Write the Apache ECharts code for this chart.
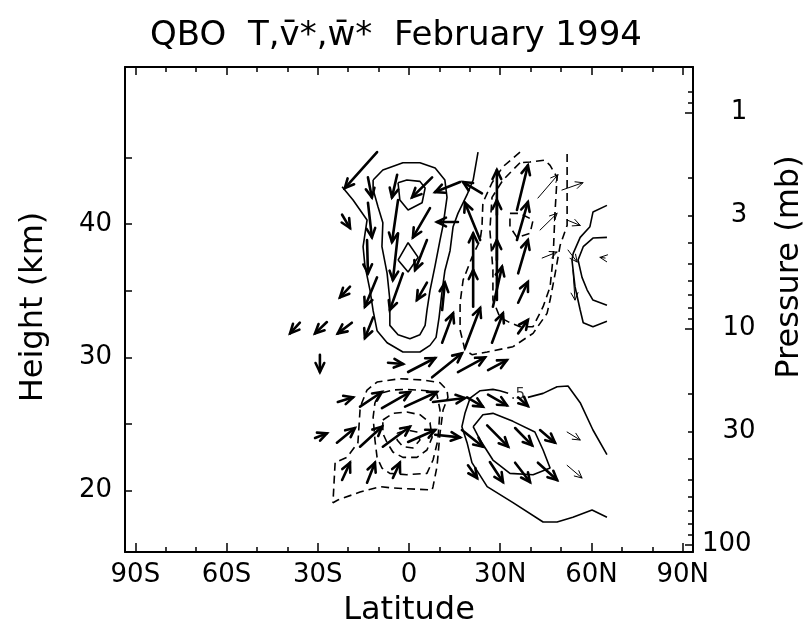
<!DOCTYPE html>
<html>
<head>
<meta charset="utf-8">
<script src="https://cdn.jsdelivr.net/npm/echarts@6/dist/echarts.min.js"></script>
<style>
html,body{margin:0;padding:0;background:#fff;}
#chart{width:812px;height:633px;}
</style>
</head>
<body>
<div id="chart"></div>
<script>
// ---------- axis ticks / labels ----------
const latMajorTicks = [-90, -60, -30, 0, 30, 60, 90];
const latMinorTicks = [-90, -80, -70, -60, -50, -40, -30, -20, -10, 0, 10, 20, 30, 40, 50, 60, 70, 80, 90];
const heightTicks = [20, 25, 30, 35, 40, 45];
const heightLabels = [20, 30, 40];
const pressureLabels = [1, 3, 10, 30];
const pressureBottomLabel = [100];
const pressureMajorTicks = [1, 10, 100];
const pressureMinorTicks = [0.8, 0.9, 2, 3, 4, 5, 6, 7, 8, 9, 20, 30, 40, 50, 60, 70, 80, 90];

// ---------- temperature contours [lat, km] ----------
const warmOuter = [[-22.0,42.8],[-18.4,41.8],[-13.8,40.3],[-15.1,38.3],[-14.5,36.9],[-12.8,35.0],[-11.8,33.5],[-10.5,32.0],[-7.2,31.1],[-2.0,30.4],[3.6,30.4],[6.9,30.9],[8.9,31.5],[9.9,33.0],[10.9,35.0],[11.8,36.5],[13.5,38.0],[14.5,39.8],[16.1,40.8],[19.1,42.2],[21.1,43.3],[22.7,45.4]];
const warmInner = [[-11.8,43.3],[-8.6,44.05],[-2.0,44.6],[3.6,44.6],[8.6,44.2],[11.8,43.3],[12.5,42.0],[11.2,39.9],[10.2,38.8],[8.6,36.9],[6.9,35.0],[5.9,33.5],[5.3,32.4],[3.6,31.7],[0.3,31.4],[-3.6,31.7],[-6.3,32.4],[-6.3,34.3],[-7.2,36.3],[-8.9,38.3],[-8.6,40.1],[-10.2,41.3],[-11.8,42.6],[-11.8,43.3]];
const warmCoreTop = [[-3.6,43.1],[-0.7,43.3],[3.6,43.2],[5.3,42.7],[4.3,41.6],[-0.3,41.05],[-3.0,41.8],[-3.6,43.1]];
const warmCoreLow = [[-3.6,37.3],[-0.3,38.6],[3.0,37.5],[-0.3,36.4],[-3.6,37.3]];
const coldOuter = [[36.5,45.4],[30.9,44.3],[27.3,43.1],[24.3,41.6],[24.0,39.8],[23.4,38.8],[20.7,37.5],[17.8,35.8],[16.8,34.1],[16.8,32.05],[18.4,30.55],[20.7,30.2],[25.7,30.4],[34.2,30.8],[40.8,31.8],[45.4,33.3],[46.4,34.3],[48.0,36.2],[49.7,38.4],[52.0,39.9],[52.0,45.4]];
const coldMiddle = [[36.5,44.6],[30.9,43.3],[27.3,42.0],[26.6,39.55],[27.6,36.55],[27.6,34.3],[29.9,33.0],[33.2,32.6],[36.5,32.3],[40.8,32.3],[44.1,33.8],[46.4,35.3],[47.4,37.5],[48.0,40.8],[48.7,43.5],[46.4,44.4],[44.7,44.8],[39.8,44.65],[36.5,44.6]];
const coldInner = [[33.2,40.8],[36.5,40.8],[40.8,40.3],[39.8,39.3],[35.5,39.0],[33.2,39.8],[33.2,40.8]];
const highLatOuter = [[65.1,41.4],[60.5,40.9],[59.5,39.8],[56.3,39.0],[54.0,37.8],[53.6,37.3],[54.6,35.3],[56.3,33.55],[57.3,32.6],[60.5,32.3],[65.1,32.7]];
const highLatInner = [[65.1,39.0],[60.5,38.95],[57.3,38.3],[55.6,37.3],[56.9,36.0],[58.6,35.05],[60.5,34.3],[65.1,33.9]];
const lowColdOuter = [[-24.3,22.1],[-25.0,19.1],[-23.4,19.3],[-16.1,19.9],[-9.5,20.3],[-5.3,20.2],[7.6,20.05],[7.9,20.3],[9.2,21.8],[10.2,24.3],[11.2,26.05],[12.8,27.0],[12.5,27.55],[10.2,28.1],[4.6,28.3],[-3.0,28.4],[-10.5,28.15],[-13.8,27.55],[-15.5,26.6],[-16.1,26.05],[-16.8,23.6],[-20.4,22.5],[-24.3,22.1]];
const lowColdMiddle = [[-11.2,26.6],[-9.5,27.3],[-5.3,27.55],[-0.7,27.6],[5.9,27.5],[9.2,27.2],[10.2,26.05],[9.5,23.8],[7.9,22.3],[5.9,21.3],[-0.7,21.2],[-6.3,21.3],[-8.9,21.7],[-10.5,22.5],[-11.2,23.8],[-11.8,25.5],[-11.2,26.6]];
const lowColdInner = [[-8.6,25.3],[-5.3,25.8],[-0.7,25.9],[3.6,25.7],[6.9,25.1],[7.6,24.0],[5.9,23.05],[2.6,22.5],[-2.0,22.5],[-5.3,22.9],[-7.2,23.6],[-8.6,24.3],[-8.6,25.3]];
const lowColdCore = [[-3.9,24.3],[-0.7,24.55],[2.6,24.4],[3.6,23.8],[1.3,23.2],[-2.0,23.3],[-3.9,23.8],[-3.9,24.3]];
const lowWarmOuter = [[65.1,22.7],[60.5,24.55],[56.3,26.6],[52.3,27.85],[48.7,27.8],[44.1,27.3],[39.1,27.0]];
const lowWarmOuterB = [[32.6,27.3],[29.9,27.5],[27.6,27.6],[23.4,27.5],[20.1,26.95],[18.4,25.8],[17.4,24.8],[19.1,23.6],[20.7,22.1],[25.7,20.3],[34.2,19.1],[44.1,17.65],[48.7,17.65],[53.9,18.0],[60.2,18.55],[65.1,18.0]];
const lowWarmInner = [[21.1,24.8],[24.3,25.7],[27.6,25.8],[34.2,25.2],[41.4,24.4],[44.1,23.05],[46.4,21.7],[40.8,21.2],[33.2,21.3],[27.6,22.3],[23.4,23.8],[21.1,24.8]];
const contourLabels = [[35.8, 27.15, '.5']];

// ---------- residual circulation arrows [lat0, km0, lat1, km1] (tail -> head) ----------
const arrowsStrong = [
 [-10.5,45.4,-21.1,42.7],[-13.5,43.5,-12.2,42.0],[-3.9,43.7,-5.6,42.0],[7.6,43.5,1.0,42.0],[16.8,43.15,8.6,42.4],[24.0,42.3,17.8,43.15],[28.9,40.7,28.9,44.05],[35.5,41.05,39.1,44.4],
 [-22.0,40.7,-19.4,39.7],[-13.5,41.6,-12.2,39.0],[-3.6,41.8,-5.6,38.65],[6.9,41.2,1.3,39.0],[16.1,40.15,9.2,40.15],[23.4,38.8,18.4,41.6],[28.9,37.3,28.9,41.8],[35.5,38.8,39.1,41.65],
 [-13.8,38.8,-13.5,36.3],[-3.6,39.3,-5.3,35.8],[5.9,38.8,2.0,36.55],[21.1,36.2,21.1,39.3],[28.9,34.3,28.9,38.8],[35.9,36.3,39.1,38.8],
 [-19.4,35.3,-22.7,34.5],[-10.5,36.0,-14.5,33.8],[-2.0,36.3,-6.3,33.55],[5.9,35.6,2.6,34.3],[10.9,33.55,11.8,35.6],[21.1,33.8,21.1,36.55],[27.6,33.8,30.6,36.8],[35.9,34.1,39.1,35.65],
 [-35.9,32.6,-39.1,31.8],[-27.0,32.65,-30.9,31.8],[-18.8,32.6,-23.4,31.8],[-11.8,33.0,-14.5,31.45],[10.9,31.1,14.5,33.3],[18.4,30.7,23.4,33.7],[27.3,31.1,30.9,33.3],[35.9,31.8,39.1,32.8],
 [-29.3,30.2,-29.3,28.9],[-6.9,29.6,-1.95,29.5],[-0.3,28.9,8.6,29.95],[7.6,28.5,17.4,30.3],[16.1,28.9,25.0,30.0],[26.0,29.05,32.2,29.8],
 [-23.4,26.65,-18.4,27.0],[-16.1,26.3,-8.9,27.4],[-8.9,26.2,0.3,27.4],[-1.3,26.3,9.2,27.4],[7.9,26.65,18.4,26.95],[19.1,27.0,24.3,26.3],[26.0,27.2,32.2,26.4],[35.9,27.0,39.1,26.35],
 [-30.9,23.95,-27.0,24.3],[-23.7,23.6,-17.8,24.7],[-16.1,23.3,-8.9,24.8],[-8.6,23.3,0.3,24.8],[-0.3,23.65,8.6,24.55],[8.6,24.2,16.8,24.0],[17.4,24.55,24.3,23.3],[25.7,24.9,32.6,23.3],[34.9,24.7,40.5,23.4],[43.1,24.55,48.0,23.6],
 [-22.0,20.8,-19.4,22.1],[-13.8,20.6,-11.2,22.1],[-5.3,20.95,-3.0,22.1],[19.4,21.9,22.4,20.95],[26.6,22.15,30.9,20.65],[34.9,22.1,39.8,20.65],[42.4,22.1,48.7,20.8]
];
const arrowsWeak = [
 [42.4,41.95,49.0,43.7],[50.3,42.55,57.2,43.1],[43.1,39.55,48.7,40.8],[52.0,40.3,56.3,39.9],[43.8,37.45,48.7,37.9],[52.3,38.05,55.3,37.15],[53.9,36.55,54.6,34.3],[64.5,37.45,62.8,37.5],
 [52.0,24.4,56.3,23.8],[52.0,21.9,56.9,20.95]
];

// ---------- build ----------
const FONT = '"DejaVu Sans", sans-serif';
const log10 = v => Math.log10(v);
const pMin = log10(0.617), pMax = log10(108.5);

function arrowRender(width, headLen) {
  return function (params, api) {
    const p0 = api.coord([api.value(0), api.value(1)]);
    const p1 = api.coord([api.value(2), api.value(3)]);
    const ang = Math.atan2(p1[1] - p0[1], p1[0] - p0[0]);
    const a1 = ang + Math.PI - 0.45, a2 = ang + Math.PI + 0.45;
    const h1 = [p1[0] + headLen * Math.cos(a1), p1[1] + headLen * Math.sin(a1)];
    const h2 = [p1[0] + headLen * Math.cos(a2), p1[1] + headLen * Math.sin(a2)];
    return {
      type: 'group',
      children: [
        { type: 'line', shape: { x1: p0[0], y1: p0[1], x2: p1[0], y2: p1[1] }, style: { stroke: '#000', lineWidth: width, lineCap: 'round' } },
        { type: 'polyline', shape: { points: [h1, p1, h2] }, style: { stroke: '#000', lineWidth: width, fill: null, lineJoin: 'miter', lineCap: 'round' } }
      ]
    };
  };
}

const contourDefs = [
  [warmOuter, 'solid'], [warmInner, 'solid'], [warmCoreTop, 'solid'], [warmCoreLow, 'solid'],
  [coldOuter, 'dashed'], [coldMiddle, 'dashed'], [coldInner, 'dashed'],
  [highLatOuter, 'solid'], [highLatInner, 'solid'],
  [lowColdOuter, 'dashed'], [lowColdMiddle, 'dashed'], [lowColdInner, 'dashed'], [lowColdCore, 'dashed'],
  [lowWarmOuter, 'solid'], [lowWarmOuterB, 'solid'], [lowWarmInner, 'solid']
];

const series = contourDefs.map(([d, kind]) => ({
  type: 'line', data: d, xAxisIndex: 0, yAxisIndex: 0,
  symbol: 'none', silent: true, animation: false, clip: false,
  lineStyle: { color: '#000', width: 1.6, type: kind === 'dashed' ? [8, 5] : 'solid' }
}));
series.push({
  type: 'custom', xAxisIndex: 0, yAxisIndex: 0, data: arrowsStrong,
  encode: { x: [0, 2], y: [1, 3] }, renderItem: arrowRender(2.6, 10), animation: false, silent: true, clip: false
});
series.push({
  type: 'custom', xAxisIndex: 0, yAxisIndex: 0, data: arrowsWeak,
  encode: { x: [0, 2], y: [1, 3] }, renderItem: arrowRender(1, 8), animation: false, silent: true, clip: false
});
series.push({
  type: 'scatter', xAxisIndex: 0, yAxisIndex: 0, symbolSize: 0, silent: true, animation: false,
  data: contourLabels.map(c => ({ value: [c[0], c[1]], name: c[2] })),
  label: { show: true, formatter: p => p.name, position: 'inside', fontFamily: FONT, fontSize: 15, color: '#000' }
});

const latFmt = v => v < 0 ? (-v) + 'S' : (v > 0 ? v + 'N' : '0');
const lineOn = { show: true, onZero: false, lineStyle: { color: '#000', width: 2 } };
const lineOff = { show: false, onZero: false };
const hidden = { show: false };

const xBase = { type: 'value', min: -93.4, max: 93.4, gridIndex: 0, splitLine: hidden };
const yBase = { type: 'value', min: 15.4, max: 51.78, gridIndex: 0, splitLine: hidden };
const pBase = { type: 'value', min: pMin, max: pMax, inverse: true, position: 'right', gridIndex: 0, splitLine: hidden };
const tickStyle = { color: '#000', width: 1.5 };

const option = {
  backgroundColor: '#fff',
  animation: false,
  grid: { left: 125, top: 67, width: 568, height: 485, containLabel: false },
  xAxis: [
    Object.assign({}, xBase, { position: 'bottom', axisLine: lineOn,
      axisTick: { show: true, inside: true, length: 9, customValues: latMajorTicks, lineStyle: tickStyle },
      axisLabel: { show: true, customValues: latMajorTicks, formatter: latFmt, margin: 10, fontFamily: FONT, fontSize: 26, color: '#000' } }),
    Object.assign({}, xBase, { position: 'bottom', axisLine: lineOff,
      axisTick: { show: true, inside: true, length: 5, customValues: latMinorTicks, lineStyle: tickStyle },
      axisLabel: hidden }),
    Object.assign({}, xBase, { position: 'top', axisLine: lineOn,
      axisTick: { show: true, inside: true, length: 8, customValues: latMajorTicks, lineStyle: tickStyle },
      axisLabel: hidden }),
    Object.assign({}, xBase, { position: 'top', axisLine: lineOff,
      axisTick: { show: true, inside: true, length: 5, customValues: latMinorTicks, lineStyle: tickStyle },
      axisLabel: hidden })
  ],
  yAxis: [
    Object.assign({}, yBase, { position: 'left', axisLine: lineOn,
      axisTick: { show: true, inside: true, length: 7, customValues: heightTicks, lineStyle: tickStyle },
      axisLabel: { show: true, customValues: heightLabels, margin: 13, fontFamily: FONT, fontSize: 26, color: '#000' } }),
    Object.assign({}, pBase, { axisLine: lineOn,
      axisTick: { show: true, inside: true, length: 8, customValues: pressureMajorTicks.map(log10), lineStyle: tickStyle },
      axisLabel: { show: true, customValues: pressureLabels.map(log10), formatter: v => String(Math.round(Math.pow(10, v))),
        margin: 46, align: 'center', fontFamily: FONT, fontSize: 26, color: '#000' } }),
    Object.assign({}, pBase, { axisLine: lineOff,
      axisTick: { show: true, inside: true, length: 5, customValues: pressureMinorTicks.map(log10), lineStyle: tickStyle },
      axisLabel: hidden }),
    Object.assign({}, pBase, { axisLine: lineOff, axisTick: hidden,
      axisLabel: { show: true, customValues: pressureBottomLabel.map(log10), formatter: v => String(Math.round(Math.pow(10, v))),
        margin: 9, align: 'left', fontFamily: FONT, fontSize: 26, color: '#000' } })
  ],
  graphic: [
    { type: 'text', x: 396, y: 36, style: { text: 'QBO  T,v\u0304*,w\u0304*  February 1994', font: '34px ' + FONT, fill: '#000', textAlign: 'center', textVerticalAlign: 'middle' } },
    { type: 'text', x: 409, y: 611, style: { text: 'Latitude', font: '32px ' + FONT, fill: '#000', textAlign: 'center', textVerticalAlign: 'middle' } },
    { type: 'text', x: 34, y: 307, rotation: Math.PI / 2, style: { text: 'Height (km)', font: '32px ' + FONT, fill: '#000', textAlign: 'center', textVerticalAlign: 'middle' } },
    { type: 'text', x: 790, y: 267, rotation: Math.PI / 2, style: { text: 'Pressure (mb)', font: '32px ' + FONT, fill: '#000', textAlign: 'center', textVerticalAlign: 'middle' } }
  ],
  series: series
};

const chart = echarts.init(document.getElementById('chart'), null, { renderer: 'canvas' });
chart.setOption(option);
</script>
</body>
</html>
